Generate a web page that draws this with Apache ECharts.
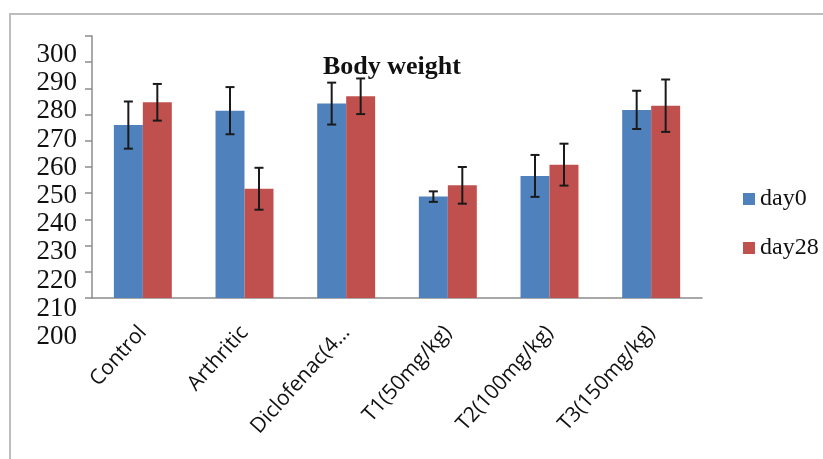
<!DOCTYPE html>
<html>
<head>
<meta charset="utf-8">
<script src="https://cdn.jsdelivr.net/npm/echarts@6/dist/echarts.min.js"></script>
<style>
html,body{margin:0;padding:0;background:#fff;}
#chart{width:823px;height:459px;}
</style>
</head>
<body>
<div id="chart"></div>
<script>
const categories = ['Control', 'Arthritic', 'Diclofenac(4\u2026', 'T1(50mg/kg)', 'T2(100mg/kg)', 'T3(150mg/kg)'];
const seriesNames = ['day0', 'day28'];
const day0 = [266.0, 271.5, 274.2, 238.7, 246.6, 271.8];
const day0Err = [9.0, 9.0, 8.0, 2.0, 8.0, 7.3];
const day28 = [274.7, 241.7, 277.0, 243.0, 250.9, 273.4];
const day28Err = [7.0, 8.0, 6.8, 7.0, 8.0, 10.0];
const yMin = 200, yMax = 300, yStep = 10;

const colors = ['#4F81BD', '#C0504D'];
const catGap = 0.43;

function errSeries(vals, errs, sign) {
  return {
    type: 'custom',
    xAxisIndex: 0,
    yAxisIndex: 0,
    z: 10,
    silent: true,
    data: vals.map((v, i) => [i, v, errs[i]]),
    renderItem: function (params, api) {
      const ci = api.value(0), v = api.value(1), e = api.value(2);
      const c = api.coord([ci, v]);
      const bw = api.size([1, 0])[0];
      const w = bw * (1 - catGap) / 2;
      const x = c[0] + sign * w / 2;
      const yt = api.coord([ci, v + e])[1];
      const yb = api.coord([ci, v - e])[1];
      const cap = 4.5;
      const st = { stroke: '#1a1a1a', lineWidth: 2 };
      return {
        type: 'group',
        children: [
          { type: 'line', shape: { x1: x, y1: yt, x2: x, y2: yb }, style: st },
          { type: 'line', shape: { x1: x - cap, y1: yt, x2: x + cap, y2: yt }, style: st },
          { type: 'line', shape: { x1: x - cap, y1: yb, x2: x + cap, y2: yb }, style: st }
        ]
      };
    }
  };
}

const chart = echarts.init(document.getElementById('chart'));
chart.setOption({
  animation: false,
  backgroundColor: '#fff',
  title: {
    text: 'Body weight',
    left: 318,
    top: 49,
    textStyle: { fontFamily: 'Liberation Serif', fontWeight: 'bold', fontSize: 26, color: '#111' }
  },
  legend: {
    data: seriesNames,
    orient: 'vertical',
    left: 738,
    top: 182,
    icon: 'rect',
    itemWidth: 12,
    itemHeight: 12,
    itemGap: 25,
    textStyle: { fontFamily: 'Liberation Serif', fontSize: 24, color: '#111' }
  },
  graphic: [{
    type: 'rect',
    shape: { x: 10, y: 14, width: 900, height: 600 },
    style: { fill: 'none', stroke: '#bdbdbd', lineWidth: 2 },
    silent: true
  }],
  grid: [
    { left: 92, top: 36, width: 610, height: 262 },
    { left: 92, top: 55, width: 610, height: 282 }
  ],
  xAxis: [
    {
      type: 'category',
      gridIndex: 0,
      data: categories,
      axisLine: { lineStyle: { color: '#8c8c8c', width: 1.5 } },
      axisTick: { length: 7, lineStyle: { color: '#8c8c8c', width: 1.5 } },
      axisLabel: {
        rotate: 48,
        interval: 0,
        margin: 31,
        fontFamily: 'Open Sans',
        fontSize: 21,
        color: '#111'
      }
    },
    { type: 'category', gridIndex: 1, data: categories, show: false }
  ],
  yAxis: [
    {
      type: 'value',
      gridIndex: 0,
      min: yMin, max: yMax, interval: yStep,
      axisLine: { show: true, lineStyle: { color: '#8c8c8c', width: 1.5 } },
      axisTick: { show: true, length: 7, lineStyle: { color: '#8c8c8c', width: 1.5 } },
      axisLabel: { show: false },
      splitLine: { show: false }
    },
    {
      type: 'value',
      gridIndex: 1,
      min: yMin, max: yMax, interval: yStep,
      axisLine: { show: false },
      axisTick: { show: false },
      splitLine: { show: false },
      axisLabel: {
        margin: 15,
        fontFamily: 'Liberation Serif',
        fontSize: 27,
        color: '#111'
      }
    }
  ],
  series: [
    {
      name: seriesNames[0], type: 'bar', xAxisIndex: 0, yAxisIndex: 0,
      data: day0, barGap: '0%', barCategoryGap: '43%',
      itemStyle: { color: colors[0] }
    },
    {
      name: seriesNames[1], type: 'bar', xAxisIndex: 0, yAxisIndex: 0,
      data: day28, barGap: '0%', barCategoryGap: '43%',
      itemStyle: { color: colors[1] }
    },
    errSeries(day0, day0Err, -1),
    errSeries(day28, day28Err, 1)
  ]
});
</script>
</body>
</html>
